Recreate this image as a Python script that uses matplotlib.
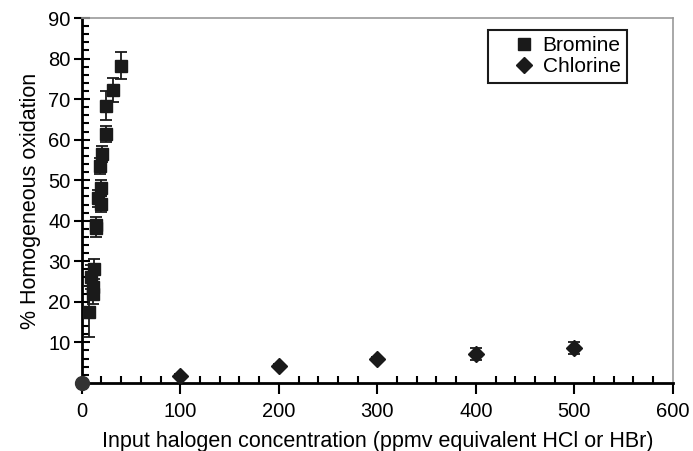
import numpy as np
import matplotlib.pyplot as plt
from matplotlib.ticker import MultipleLocator
from matplotlib.lines import Line2D

plt.rcParams['font.family'] = ['Liberation Sans', 'DejaVu Sans']

# bromine: input concentration, % oxidation, error
br_x = [7.4, 9.8, 11.0, 11.5, 12.1, 14.0, 14.8, 16.5, 18.2, 19.2, 19.9, 20.6, 24.3, 25.0, 31.7, 40.0]
br_y = [17.6, 26.2, 23.7, 21.9, 28.1, 39.0, 38.1, 45.5, 53.5, 48.0, 44.1, 56.5, 61.4, 68.4, 72.2, 78.2]
br_err = [6.2, 3.0, 3.0, 2.5, 2.5, 2.0, 2.0, 2.0, 2.0, 2.0, 2.0, 2.0, 2.0, 3.5, 3.0, 3.3]

# chlorine
cl_x = [100, 200, 300, 400, 500]
cl_y = [1.7, 4.2, 5.9, 7.1, 8.6]
cl_err = [0.5, 0.5, 0.6, 1.5, 1.5]

fig = plt.figure(figsize=(6.93, 4.51), dpi=100)
ax = fig.add_axes([0.118, 0.151, 0.853, 0.809])

ax.errorbar(br_x, br_y, yerr=br_err, fmt='s', color='#1a1a1a', ms=9,
            capsize=4, elinewidth=1.3, capthick=1.3, zorder=3)
ax.errorbar(cl_x, cl_y, yerr=cl_err, fmt='D', color='#1a1a1a', ms=8,
            capsize=4, elinewidth=1.3, capthick=1.3, zorder=3)
ax.plot([0], [0], 'o', color='#333333', ms=10, clip_on=False, zorder=4)

ax.set_xlim(0, 600)
ax.set_ylim(0, 90)
ax.xaxis.set_major_locator(MultipleLocator(100))
ax.xaxis.set_minor_locator(MultipleLocator(20))
ax.yaxis.set_minor_locator(MultipleLocator(2))
ax.set_yticks(range(10, 91, 10))

ax.tick_params(axis='x', which='major', direction='out', length=8, width=1.5, labelsize=14.5, pad=6)
ax.tick_params(axis='x', which='minor', direction='in', length=5, width=1.5)
ax.tick_params(axis='y', which='major', direction='inout', length=12, width=1.5, labelsize=14.5, pad=2)
ax.tick_params(axis='y', which='minor', direction='in', length=5, width=1.5)

for s in ['left', 'bottom']:
    ax.spines[s].set_linewidth(2)
for s in ['top', 'right']:
    ax.spines[s].set_color('#999999')
    ax.spines[s].set_linewidth(1.2)

ax.set_xlabel('Input halogen concentration (ppmv equivalent HCl or HBr)', fontsize=15.5, labelpad=7)
ax.set_ylabel('% Homogeneous oxidation', fontsize=15.5, labelpad=5)

handles = [Line2D([], [], ls='none', marker='s', color='#1a1a1a', ms=9),
           Line2D([], [], ls='none', marker='D', color='#1a1a1a', ms=8)]
leg = ax.legend(handles, ['Bromine', 'Chlorine'], loc='upper right',
                bbox_to_anchor=(0.922, 0.967), fontsize=15,
                frameon=True, fancybox=False, edgecolor='#1a1a1a', framealpha=1,
                handletextpad=-0.5, borderpad=0.3, labelspacing=0.1, handlelength=2.8,
                borderaxespad=0)
leg.get_frame().set_linewidth(1.5)

fig.savefig('out.png', dpi=100)
